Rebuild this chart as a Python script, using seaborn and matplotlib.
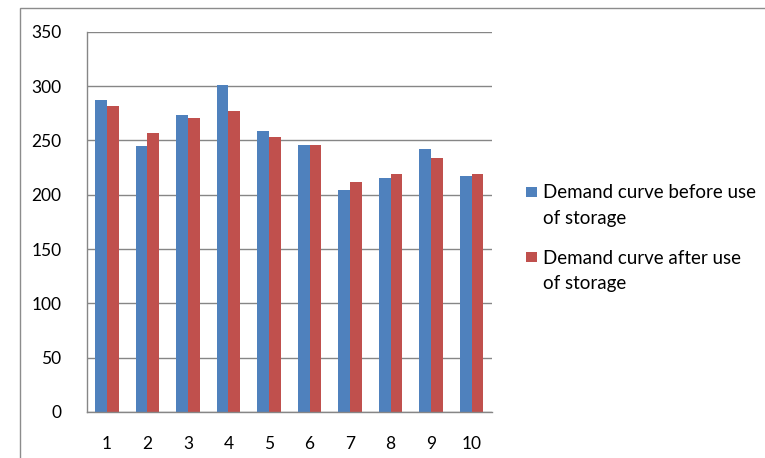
import textwrap
import matplotlib
matplotlib.use("Agg")
import matplotlib.pyplot as plt
from matplotlib.patches import Rectangle
import pandas as pd
import seaborn as sns

# Hourly demand, before and after using storage
periods = ["1", "2", "3", "4", "5", "6", "7", "8", "9", "10"]
before_storage = [287, 245, 273, 301, 259, 246, 204, 215, 242, 217]
after_storage = [282, 257, 271, 277, 253, 246, 212, 219, 234, 219]
series_names = ["Demand curve before use of storage",
                "Demand curve after use of storage"]
y_ticks = [0, 50, 100, 150, 200, 250, 300, 350]

blue = "#4F81BD"
red = "#C0504D"
grid_gray = "#868686"

df = pd.DataFrame({
    "period": periods * 2,
    "demand": before_storage + after_storage,
    "series": [series_names[0]] * len(periods) + [series_names[1]] * len(periods),
})

sns.set_style("white")
plt.rcParams["font.family"] = ["Lato", "DejaVu Sans"]

fig = plt.figure(figsize=(7.65, 4.58), dpi=100)
W, H = 765, 458
ax = fig.add_axes([86.5 / W, 1 - 412 / H, (492 - 86.5) / W, (412 - 31.7) / H])

sns.barplot(data=df, x="period", y="demand", hue="series", order=periods,
            hue_order=series_names, palette=[blue, red], width=0.58,
            saturation=1, ax=ax, legend=False, edgecolor="none")

ax.set_ylim(0, 350)
ax.set_yticks(y_ticks)
ax.set_xlim(-0.5, len(periods) - 0.5)
ax.set_xlabel("")
ax.set_ylabel("")
ax.set_axisbelow(True)
ax.yaxis.grid(True, color=grid_gray, linewidth=1.0)
ax.xaxis.grid(False)

for side in ["top", "right"]:
    ax.spines[side].set_visible(False)
for side in ["left", "bottom"]:
    ax.spines[side].set_color(grid_gray)
    ax.spines[side].set_linewidth(1.0)

# Category ticks sit on the boundaries between groups
ax.set_xticks([i + 0.5 for i in range(-1, len(periods))], minor=True)
ax.tick_params(axis="x", which="major", length=0, pad=17, labelsize=12.5,
               labelcolor="black")
ax.tick_params(axis="x", which="minor", length=6, width=1.0, color=grid_gray,
               direction="out")
ax.tick_params(axis="y", length=6, width=1.0, color=grid_gray, pad=12,
               labelsize=12.5, labelcolor="black", direction="out")


def px(x, y):
    """Pixel position (from top-left) to figure fraction."""
    return x / W, 1 - y / H


# Legend: colour square beside wrapped series name
entry_tops = [187, 252]
for name, color, top in zip(series_names, [blue, red], entry_tops):
    sx, sy = px(526, top + 10)
    fig.patches.append(Rectangle((sx, sy), 11 / W, 10 / H,
                                 transform=fig.transFigure,
                                 facecolor=color, edgecolor="none"))
    for i, line in enumerate(textwrap.wrap(name, 23)):
        tx, ty = px(543, top + 11.5 + 25 * i)
        fig.text(tx, ty, line, fontsize=13.5, va="baseline", ha="left",
                 color="black")

# Outer chart frame
fig.patches.append(Rectangle((20 / W, -0.1), 1.0, 1 - 8 / H + 0.1,
                             transform=fig.transFigure, fill=False,
                             edgecolor="#8C8C8C", linewidth=1.0))

fig.savefig("out.png", dpi=100)
